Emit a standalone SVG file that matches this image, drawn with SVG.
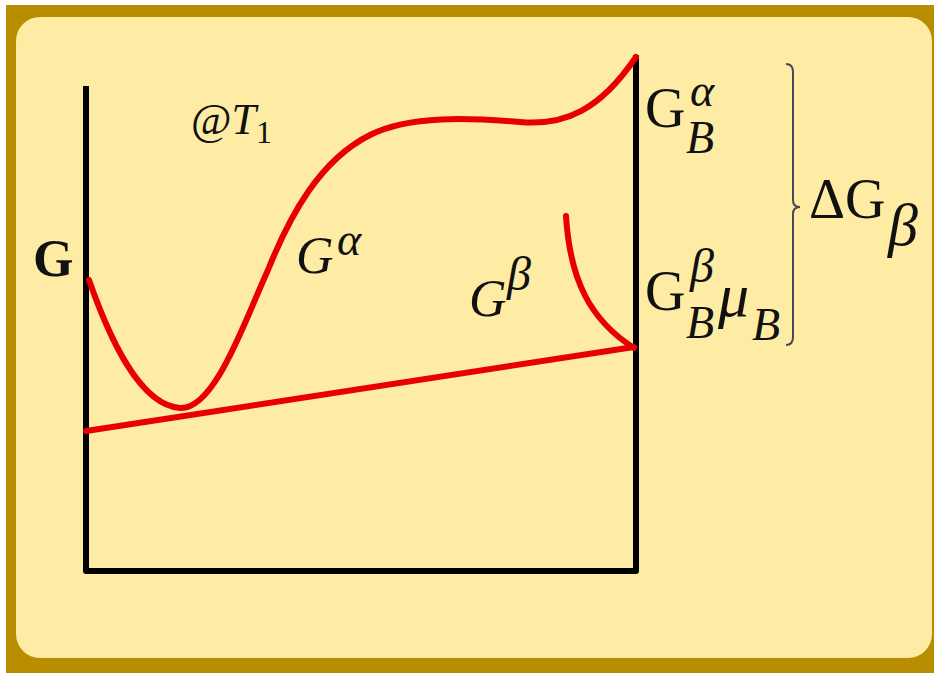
<svg xmlns="http://www.w3.org/2000/svg" width="934" height="673" viewBox="0 0 934 673">
<style>
.red{fill:none;stroke:#E80000;stroke-width:6;stroke-linecap:round;stroke-linejoin:round}
.ax{fill:none;stroke:#000;stroke-width:6;stroke-linejoin:round}
.t{font-family:"Liberation Serif","Times New Roman",serif;fill:#111}
.i{font-style:italic}
</style>
<rect x="0" y="0" width="934" height="673" fill="#ffffff"/>
<rect x="6" y="5" width="928" height="668" fill="#B88E00"/>
<rect x="16" y="17" width="916" height="641" rx="24" fill="#FEEBA4"/>
<g id="axes">
<path class="ax" d="M86 86 L86 571 L636 571 L636 55"/>
</g>
<g id="curves">
<path id="g-alpha" class="red" d="M89 280 C110 340 140 405 180 408 C215 410 245 320 268 270 C290 215 320 160 370 135 C410 115 470 118 520 122 C565 126 600 110 636 57"/>
<path id="g-beta" class="red" d="M566 216 C570 280 590 320 634 348"/>
<path id="tangent" class="red" d="M86 431 L634 347"/>
</g>
<g id="brace">
<path d="M786 64 Q793 64 793 72 L793 200 Q793 207 800 207 Q793 207 793 214 L793 337 Q793 345 786 345" fill="none" stroke="#4a4656" stroke-width="2"/>
</g>
<g id="labels">
<text class="t" x="33" y="276" font-size="52" font-weight="bold">G</text>
<text class="t" x="191" y="134" font-size="44">@<tspan class="i" font-size="44">T</tspan><tspan x="256" y="143" font-size="32">1</tspan></text>
<text class="t i" x="296" y="273" font-size="52">G<tspan x="337" y="255" font-size="46">α</tspan></text>
<text class="t i" x="469" y="316" font-size="52">G<tspan x="507" y="290" font-size="48">β</tspan></text>
<text class="t" x="645" y="127" font-size="56">G<tspan class="i" x="690" y="106" font-size="46">α</tspan><tspan class="i" x="686" y="153" font-size="46">B</tspan></text>
<text class="t" x="645" y="310" font-size="56">G<tspan class="i" x="690" y="282" font-size="48">β</tspan><tspan class="i" x="686" y="338" font-size="46">B</tspan><tspan class="i" x="718" y="316" font-size="62">μ</tspan><tspan class="i" x="752" y="340" font-size="46">B</tspan></text>
<text class="t" x="809" y="218" font-size="56">ΔG<tspan class="i" x="888" y="245" font-size="60">β</tspan></text>
</g>
</svg>
